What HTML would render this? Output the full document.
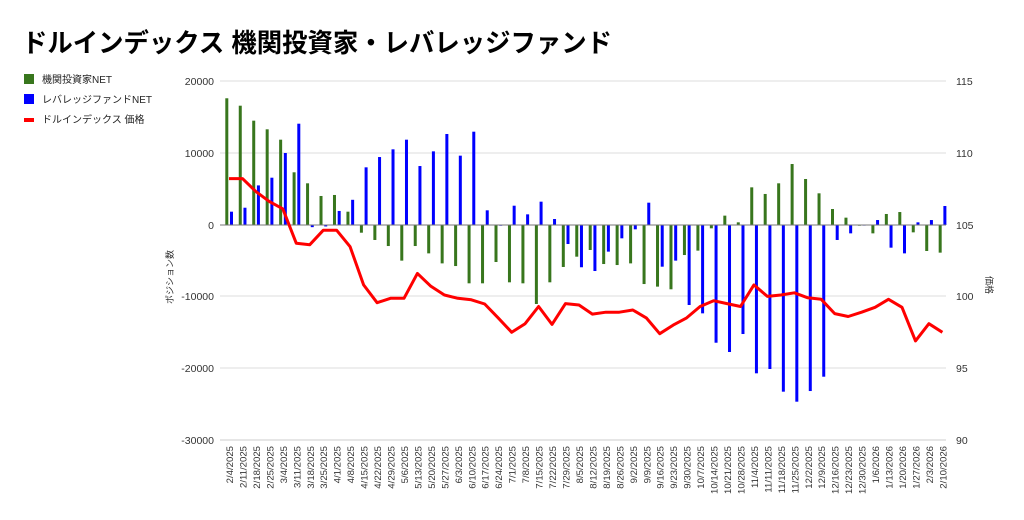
<!DOCTYPE html>
<html><head><meta charset="utf-8"><style>
body{margin:0;background:#fff;}
svg{display:block;font-family:"Liberation Sans","Noto Sans CJK JP",sans-serif;}
</style></head><body>
<svg id="s" width="1024" height="520" viewBox="0 0 1024 520" xmlns="http://www.w3.org/2000/svg">
<rect width="1024" height="520" fill="#fff"/>
<text x="22" y="52" font-size="26" font-weight="bold" fill="#000" textLength="590" lengthAdjust="spacingAndGlyphs">ドルインデックス 機関投資家・レバレッジファンド</text>
<rect x="24" y="74" width="10" height="10" fill="#38761d"/>
<text x="42" y="83" font-size="10" fill="#222">機関投資家NET</text>
<rect x="24" y="94" width="10" height="10" fill="#0000ff"/>
<text x="42" y="103" font-size="10" fill="#222">レバレッジファンドNET</text>
<rect x="24" y="118" width="10" height="4" fill="#ff0000"/>
<text x="42" y="123" font-size="10" fill="#222">ドルインデックス 価格</text>
<g stroke="#ddd" stroke-width="1">
<line x1="220" x2="946" y1="81" y2="81"/><line x1="220" x2="946" y1="153" y2="153"/>
<line x1="220" x2="946" y1="296" y2="296"/><line x1="220" x2="946" y1="368" y2="368"/>
</g>
<line x1="220" x2="946" y1="440" y2="440" stroke="#ccc"/>
<g font-size="10.5" fill="#333" text-anchor="end">
<text x="214" y="85">20000</text><text x="214" y="157">10000</text><text x="214" y="229">0</text>
<text x="214" y="300">-10000</text><text x="214" y="372">-20000</text><text x="214" y="444">-30000</text>
</g>
<g font-size="10.5" fill="#333">
<text x="956" y="85">115</text><text x="956" y="157">110</text><text x="956" y="229">105</text>
<text x="956" y="300">100</text><text x="956" y="372">95</text><text x="956" y="444">90</text>
</g>
<text transform="translate(173,277) rotate(-90)" font-size="9" text-anchor="middle" fill="#333">ポジション数</text>
<text transform="translate(986,285) rotate(90)" font-size="9" text-anchor="middle" fill="#333">価格</text>
<g id="bars"></g>
<line x1="220" x2="946" y1="225" y2="225" stroke="#777" stroke-width="1"/>
<polyline id="pl" fill="none" stroke="#ff0000" stroke-width="3" stroke-linejoin="round" points=""/>
<g font-size="9.6" fill="#333" text-anchor="end" id="xl">
<text transform="translate(233,446) rotate(-90)">2/4/2025</text>
<text transform="translate(246.5,446) rotate(-90)">2/11/2025</text>
<text transform="translate(259.9,446) rotate(-90)">2/18/2025</text>
<text transform="translate(273.4,446) rotate(-90)">2/25/2025</text>
<text transform="translate(286.8,446) rotate(-90)">3/4/2025</text>
<text transform="translate(300.3,446) rotate(-90)">3/11/2025</text>
<text transform="translate(313.8,446) rotate(-90)">3/18/2025</text>
<text transform="translate(327.2,446) rotate(-90)">3/25/2025</text>
<text transform="translate(340.7,446) rotate(-90)">4/1/2025</text>
<text transform="translate(354.1,446) rotate(-90)">4/8/2025</text>
<text transform="translate(367.6,446) rotate(-90)">4/15/2025</text>
<text transform="translate(381.1,446) rotate(-90)">4/22/2025</text>
<text transform="translate(394.5,446) rotate(-90)">4/29/2025</text>
<text transform="translate(408,446) rotate(-90)">5/6/2025</text>
<text transform="translate(421.4,446) rotate(-90)">5/13/2025</text>
<text transform="translate(434.9,446) rotate(-90)">5/20/2025</text>
<text transform="translate(448.4,446) rotate(-90)">5/27/2025</text>
<text transform="translate(461.8,446) rotate(-90)">6/3/2025</text>
<text transform="translate(475.3,446) rotate(-90)">6/10/2025</text>
<text transform="translate(488.7,446) rotate(-90)">6/17/2025</text>
<text transform="translate(502.2,446) rotate(-90)">6/24/2025</text>
<text transform="translate(515.7,446) rotate(-90)">7/1/2025</text>
<text transform="translate(529.1,446) rotate(-90)">7/8/2025</text>
<text transform="translate(542.6,446) rotate(-90)">7/15/2025</text>
<text transform="translate(556,446) rotate(-90)">7/22/2025</text>
<text transform="translate(569.5,446) rotate(-90)">7/29/2025</text>
<text transform="translate(583,446) rotate(-90)">8/5/2025</text>
<text transform="translate(596.4,446) rotate(-90)">8/12/2025</text>
<text transform="translate(609.9,446) rotate(-90)">8/19/2025</text>
<text transform="translate(623.3,446) rotate(-90)">8/26/2025</text>
<text transform="translate(636.8,446) rotate(-90)">9/2/2025</text>
<text transform="translate(650.3,446) rotate(-90)">9/9/2025</text>
<text transform="translate(663.7,446) rotate(-90)">9/16/2025</text>
<text transform="translate(677.2,446) rotate(-90)">9/23/2025</text>
<text transform="translate(690.6,446) rotate(-90)">9/30/2025</text>
<text transform="translate(704.1,446) rotate(-90)">10/7/2025</text>
<text transform="translate(717.6,446) rotate(-90)">10/14/2025</text>
<text transform="translate(731,446) rotate(-90)">10/21/2025</text>
<text transform="translate(744.5,446) rotate(-90)">10/28/2025</text>
<text transform="translate(757.9,446) rotate(-90)">11/4/2025</text>
<text transform="translate(771.4,446) rotate(-90)">11/11/2025</text>
<text transform="translate(784.9,446) rotate(-90)">11/18/2025</text>
<text transform="translate(798.3,446) rotate(-90)">11/25/2025</text>
<text transform="translate(811.8,446) rotate(-90)">12/2/2025</text>
<text transform="translate(825.2,446) rotate(-90)">12/9/2025</text>
<text transform="translate(838.7,446) rotate(-90)">12/16/2025</text>
<text transform="translate(852.2,446) rotate(-90)">12/23/2025</text>
<text transform="translate(865.6,446) rotate(-90)">12/30/2025</text>
<text transform="translate(879.1,446) rotate(-90)">1/6/2026</text>
<text transform="translate(892.5,446) rotate(-90)">1/13/2026</text>
<text transform="translate(906,446) rotate(-90)">1/20/2026</text>
<text transform="translate(919.5,446) rotate(-90)">1/27/2026</text>
<text transform="translate(932.9,446) rotate(-90)">2/3/2026</text>
<text transform="translate(946.4,446) rotate(-90)">2/10/2026</text>
</g>
</svg>
<script>
var G=[17600,16570,14490,13290,11850,7320,5790,4030,4170,1850,-1070,-2080,-2920,-4950,-2920,-3940,-5330,-5700,-8100,-8100,-5140,-7960,-8100,-10970,-7960,-5830,-4400,-3470,-5420,-5560,-5330,-8200,-8560,-8930,-4170,-3560,-460,1300,370,5230,4310,5790,8470,6390,4400,2220,1020,-100,-1160,1530,1800,-1020,-3610,-3840];
var B=[1850,2400,5500,6570,10000,14070,-300,-200,1950,3500,8010,9440,10510,11850,8190,10230,12640,9630,12960,2040,-100,2680,1480,3240,830,-2640,-5870,-6390,-3700,-1850,-600,3100,-5790,-4950,-11110,-12270,-16350,-17640,-15140,-20600,-20000,-23150,-24540,-23060,-21070,-2080,-1160,0,690,-3150,-3940,370,690,2640];
var P=[108.2,108.2,107.3,106.6,106.1,103.7,103.6,104.6,104.6,103.46,100.8,99.56,99.87,99.87,101.6,100.7,100.1,99.87,99.76,99.47,98.5,97.5,98.1,99.3,98.05,99.5,99.4,98.77,98.9,98.9,99.05,98.5,97.4,98.0,98.5,99.3,99.7,99.5,99.3,100.8,100.0,100.1,100.25,99.9,99.8,98.8,98.6,98.9,99.24,99.8,99.24,96.9,98.1,97.5];
var ns="http://www.w3.org/2000/svg",g=document.getElementById("bars"),pts=[];
function r(x,v,c){var y=225-v*0.0072,e=document.createElementNS(ns,"rect");e.setAttribute("x",x);e.setAttribute("width",3);e.setAttribute("y",Math.min(y,225));e.setAttribute("height",Math.max(Math.abs(225-y),0.6));e.setAttribute("fill",c);g.appendChild(e);}
for(var i=0;i<54;i++){var c=229+13.46*i;r(c-3.7,G[i],"#38761d");r(c+1,B[i],"#0000ff");pts.push(c.toFixed(1)+","+(81+(115-P[i])*14.36).toFixed(1));}
document.getElementById("pl").setAttribute("points",pts.join(" "));
</script>
</body></html>
